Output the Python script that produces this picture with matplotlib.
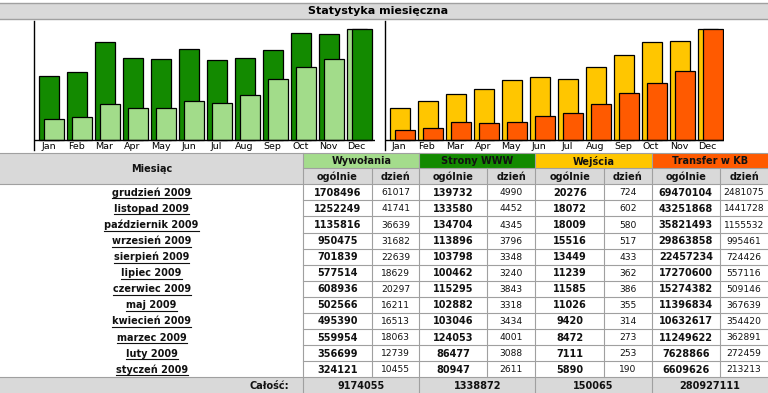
import numpy as np
import matplotlib
matplotlib.use('Agg')
import matplotlib.pyplot as plt
from matplotlib.patches import Rectangle

# dane - kolejnosc jak w tabeli (grudzien -> styczen)
months_pl = ['grudzień 2009', 'listopad 2009', 'październik 2009', 'wrzesień 2009',
             'sierpień 2009', 'lipiec 2009', 'czerwiec 2009', 'maj 2009',
             'kwiecień 2009', 'marzec 2009', 'luty 2009', 'styczeń 2009']
month_abbr = ['Jan', 'Feb', 'Mar', 'Apr', 'May', 'Jun', 'Jul', 'Aug', 'Sep', 'Oct', 'Nov', 'Dec']

hits_total = [1708496, 1252249, 1135816, 950475, 701839, 577514, 608936, 502566, 495390, 559954, 356699, 324121]
hits_day = [61017, 41741, 36639, 31682, 22639, 18629, 20297, 16211, 16513, 18063, 12739, 10455]
pages_total = [139732, 133580, 134704, 113896, 103798, 100462, 115295, 102882, 103046, 124053, 86477, 80947]
pages_day = [4990, 4452, 4345, 3796, 3348, 3240, 3843, 3318, 3434, 4001, 3088, 2611]
visits_total = [20276, 18072, 18009, 15516, 13449, 11239, 11585, 11026, 9420, 8472, 7111, 5890]
visits_day = [724, 602, 580, 517, 433, 362, 386, 355, 314, 273, 253, 190]
kb_total = [69470104, 43251868, 35821493, 29863858, 22457234, 17270600, 15274382, 11396834,
            10632617, 11249622, 7628866, 6609626]
kb_day = [2481075, 1441728, 1155532, 995461, 724426, 557116, 509146, 367639, 354420, 362891, 272459, 213213]
totals = [9174055, 1338872, 150065, 280927111]

headers = ['Wywołania', 'Strony WWW', 'Wejścia', 'Transfer w KB']
head_colors = ['#a4dc8c', '#138a00', '#ffc600', '#ff5a00']

C_HITS = '#a2dc8a'
C_PAGES = '#138a00'
C_VISITS = '#ffc600'
C_KB = '#ff5a00'
GREY = '#d9d9d9'
LINE = '#a0a0a0'

W, H = 768, 393
fig = plt.figure(figsize=(W / 100, H / 100), dpi=100)
bg = fig.add_axes([0, 0, 1, 1])
bg.set_xlim(0, W)
bg.set_ylim(H, 0)
bg.axis('off')


def px_axes(x0, y0, x1, y1):
    return fig.add_axes([x0 / W, 1 - y1 / H, (x1 - x0) / W, (y1 - y0) / H])


# pasek tytulu
bg.add_patch(Rectangle((0, 2.7), W, 16.3, fc=GREY, ec='none'))
bg.plot([0, W], [2.7, 2.7], color=LINE, lw=1)
bg.plot([0, W], [19, 19], color=LINE, lw=1)
bg.text(378, 11, 'Statystyka miesięczna', ha='center', va='center',
        fontsize=8, fontweight='bold', color='black')

# wykresy
STEP = 28.0
UNIT = 111.0
BASE = 140.3


def chart(x0, x1, a, b, ca, cb):
    a = np.array(a[::-1], dtype=float)
    b = np.array(b[::-1], dtype=float)
    an = a / a.max()
    bn = b / b.max()
    ax = px_axes(x0, 21, x1, 150.5)
    ax.patch.set_alpha(0)
    first = x0 + 5
    ax.set_xlim((x0 - first) / STEP, (x1 - first) / STEP)
    ax.set_ylim(-(150.5 - BASE) / UNIT, (BASE - 21) / UNIT)
    back_is_a = an >= bn
    back_h = np.where(back_is_a, an, bn)
    front_h = np.where(back_is_a, bn, an)
    back_c = [ca if f else cb for f in back_is_a]
    front_c = [cb if f else ca for f in back_is_a]
    x = np.arange(12)
    w = 20 / STEP
    ax.bar(x, back_h, width=w, align='edge', color=back_c, edgecolor='black', lw=0.9, zorder=2)
    ax.bar(x + 5 / STEP, front_h, width=w, align='edge', color=front_c, edgecolor='black', lw=0.9, zorder=3)
    ax.axhline(0, color='black', lw=1, zorder=4)
    for s in ['top', 'right', 'bottom']:
        ax.spines[s].set_visible(False)
    ax.spines['left'].set_linewidth(1)
    ax.set_xticks([])
    ax.set_yticks([])
    for i, m in enumerate(month_abbr):
        ax.text(i + 0.33, -0.058, m, ha='center', va='center', fontsize=6.8, color='black')


chart(34.3, 375, hits_total, pages_total, C_HITS, C_PAGES)
chart(384.7, 724.3, visits_total, kb_total, C_VISITS, C_KB)

# tabela
cols = [0, 303.3, 371.7, 419.3, 487.3, 535.3, 604, 651.7, 720, 768]
top, h1, h2 = 153.3, 168.3, 184.3
row_h = 16.08
tot_top = h2 + 12 * row_h
bottom = 393

bg.add_patch(Rectangle((0, top), cols[1], h2 - top, fc=GREY, ec='none'))
bg.add_patch(Rectangle((cols[1], h1), W - cols[1], h2 - h1, fc=GREY, ec='none'))
bg.add_patch(Rectangle((0, tot_top), W, bottom - tot_top, fc=GREY, ec='none'))
for g in range(4):
    xa, xb = cols[1 + 2 * g], cols[3 + 2 * g]
    bg.add_patch(Rectangle((xa, top), xb - xa, h1 - top, fc=head_colors[g], ec='none'))
    bg.text((xa + xb) / 2, (top + h1) / 2 + 0.5, headers[g], ha='center', va='center',
            fontsize=7, fontweight='bold', color='#111111')
    for k, lab in enumerate(['ogólnie', 'dzień']):
        ca, cb = cols[1 + 2 * g + k], cols[2 + 2 * g + k]
        bg.text((ca + cb) / 2, (h1 + h2) / 2 + 0.5, lab, ha='center', va='center',
                fontsize=7, fontweight='bold', color='#111111')
    bg.text((xa + xb) / 2, (tot_top + bottom) / 2 + 0.5, str(totals[g]), ha='center', va='center',
            fontsize=7, fontweight='bold', color='#111111')

bg.text(cols[1] / 2, (top + h2) / 2, 'Miesiąc', ha='center', va='center',
        fontsize=7, fontweight='bold', color='#111111')
bg.text(cols[1] - 14, (tot_top + bottom) / 2 + 0.5, 'Całość:', ha='right', va='center',
        fontsize=7, fontweight='bold', color='#111111')

lw = 0.8
bg.plot([0, W], [top, top], color=LINE, lw=lw)
bg.plot([cols[1], W], [h1, h1], color=LINE, lw=lw)
bg.plot([0, W], [h2, h2], color=LINE, lw=lw)
for k in range(1, 12):
    y = h2 + k * row_h
    bg.plot([cols[1], W], [y, y], color=LINE, lw=lw)
bg.plot([0, W], [tot_top, tot_top], color=LINE, lw=lw)
for c in [cols[1], cols[3], cols[5], cols[7]]:
    bg.plot([c, c], [top, bottom], color=LINE, lw=lw)
for c in [cols[2], cols[4], cols[6], cols[8]]:
    bg.plot([c, c], [h1, tot_top], color=LINE, lw=lw)

series = [hits_total, hits_day, pages_total, pages_day, visits_total, visits_day, kb_total, kb_day]
month_texts = []
for r in range(12):
    yc = h2 + (r + 0.5) * row_h
    t = bg.text(cols[1] / 2, yc + 0.5, months_pl[r], ha='center', va='center',
                fontsize=7, fontweight='bold', color='#111111')
    month_texts.append((t, yc))
    for j, s in enumerate(series):
        xc = (cols[1 + j] + cols[2 + j]) / 2
        bold = j % 2 == 0
        bg.text(xc, yc + 0.5, str(s[r]), ha='center', va='center',
                fontsize=7 if bold else 6.6, fontweight='bold' if bold else 'normal', color='#111111')

# podkreslenia nazw miesiecy
fig.canvas.draw()
rend = fig.canvas.get_renderer()
inv = bg.transData.inverted()
for t, yc in month_texts:
    bb = t.get_window_extent(rend)
    (xa, _), (xb, _) = inv.transform([[bb.x0, bb.y0], [bb.x1, bb.y0]])
    bg.plot([xa, xb], [yc + 6, yc + 6], color='#111111', lw=0.8)

fig.savefig('out.png', dpi=100)
